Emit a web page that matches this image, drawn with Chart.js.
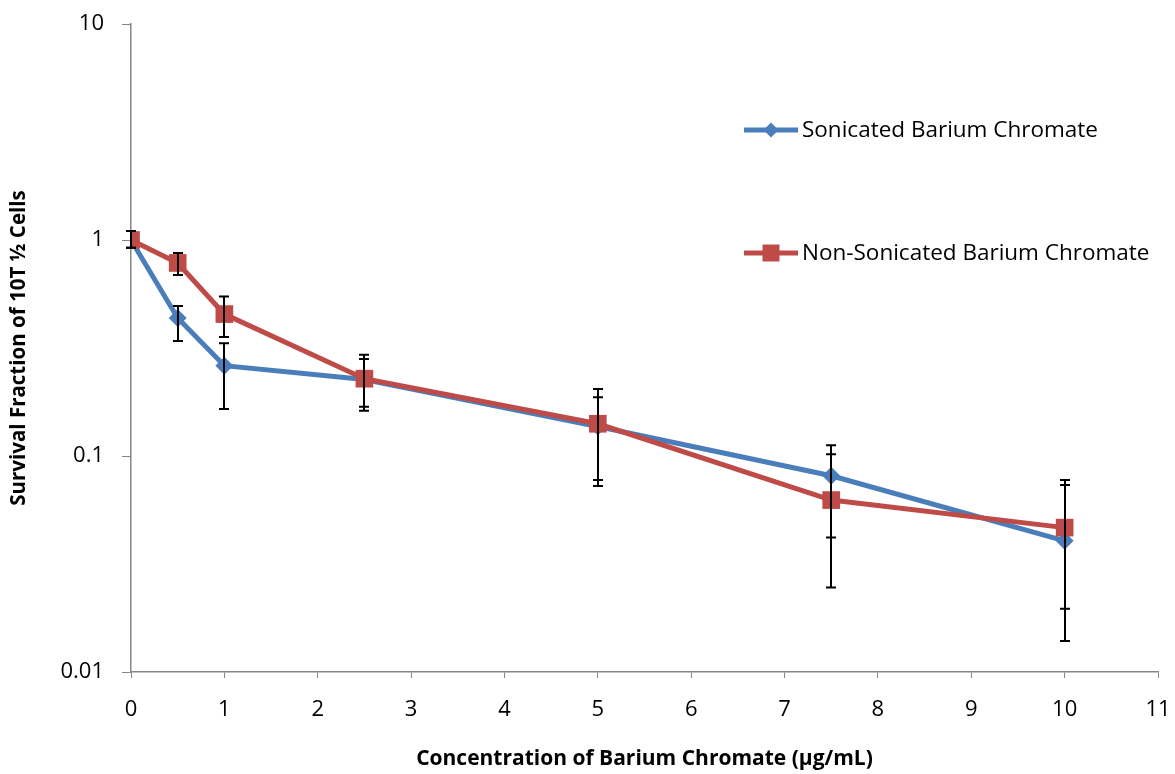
<!DOCTYPE html>
<html><head><meta charset="utf-8">
<script src="https://cdn.jsdelivr.net/npm/chart.js@4"></script>
<style>html,body{margin:0;padding:0;background:#fff}#wrap{width:1175px;height:774px}</style>
</head><body><div id="wrap"><canvas id="c" width="1175" height="774"></canvas></div>
<script>
const concentrations = [0, 0.5, 1, 2.5, 5, 7.5, 10];
const sonicated = [1, 0.435, 0.262, 0.226, 0.137, 0.081, 0.0405];
const sonicatedHigh = [1.1, 0.495, 0.333, 0.281, 0.187, 0.112, 0.0774];
const sonicatedLow = [0.92, 0.341, 0.165, 0.169, 0.0774, 0.042, 0.0139];
const nonSonicated = [1, 0.783, 0.454, 0.228, 0.141, 0.0625, 0.0466];
const nonSonicatedHigh = [1.1, 0.87, 0.547, 0.294, 0.204, 0.102, 0.0734];
const nonSonicatedLow = [0.92, 0.689, 0.356, 0.162, 0.0727, 0.0246, 0.0196];
const yTickValues = [0.01, 0.1, 1, 10];
const seriesNames = ['Sonicated Barium Chromate', 'Non-Sonicated Barium Chromate'];
const xTitle = 'Concentration of Barium Chromate (µg/mL)';
const yTitle = 'Survival Fraction of 10T ½ Cells';

const BLUE = '#4a7ebb', RED = '#be4b48', AXIS = '#868686';
const pts = (ys) => concentrations.map((x, i) => ({x, y: ys[i]}));

const errorBars = {
  id: 'errorBars',
  afterDatasetsDraw(chart) {
    const ctx = chart.ctx, xs = chart.scales.x, ys = chart.scales.y;
    const sets = [[sonicatedHigh, sonicatedLow], [nonSonicatedHigh, nonSonicatedLow]];
    ctx.save();
    ctx.strokeStyle = '#000';
    ctx.lineWidth = 2;
    sets.forEach(([hi, lo]) => {
      concentrations.forEach((c, i) => {
        const px = Math.round(xs.getPixelForValue(c));
        const yh = ys.getPixelForValue(hi[i]);
        const yl = ys.getPixelForValue(Math.max(lo[i], 0.01));
        ctx.beginPath();
        ctx.moveTo(px, yh); ctx.lineTo(px, yl);
        ctx.moveTo(px - 5, yh); ctx.lineTo(px + 5, yh);
        ctx.moveTo(px - 5, yl); ctx.lineTo(px + 5, yl);
        ctx.stroke();
      });
    });
    ctx.restore();
  }
};

const customLegend = {
  id: 'customLegend',
  afterDraw(chart) {
    const ctx = chart.ctx;
    const items = [
      {name: seriesNames[0], color: BLUE, style: 'rectRot', r: 7.5, y: 130},
      {name: seriesNames[1], color: RED, style: 'rect', r: 12, y: 253}
    ];
    ctx.save();
    items.forEach(it => {
      ctx.strokeStyle = it.color; ctx.lineWidth = 5;
      ctx.beginPath(); ctx.moveTo(744, it.y); ctx.lineTo(798, it.y); ctx.stroke();
      ctx.fillStyle = it.color;
      Chart.helpers.drawPoint(ctx, {pointStyle: it.style, radius: it.r, borderWidth: 0}, 771, it.y);
      ctx.fillStyle = '#000';
      ctx.font = '22.5px "Open Sans"';
      ctx.textBaseline = 'middle';
      ctx.fillText(it.name, 802, it.y + 1);
    });
    ctx.restore();
  }
};

new Chart(document.getElementById('c'), {
  type: 'line',
  data: {
    datasets: [
      {label: seriesNames[0], data: pts(sonicated), borderColor: BLUE, backgroundColor: BLUE,
       borderWidth: 5, pointStyle: 'rectRot', pointRadius: 9, pointBorderWidth: 0, order: 2, tension: 0},
      {label: seriesNames[1], data: pts(nonSonicated), borderColor: RED, backgroundColor: RED,
       borderWidth: 5, pointStyle: 'rect', pointRadius: 12.5, pointBorderWidth: 0, order: 1, tension: 0}
    ]
  },
  options: {
    responsive: false, animation: false, devicePixelRatio: 1,
    layout: {padding: {top: 24, right: 17, left: 0, bottom: 0}},
    plugins: {legend: {display: false}, tooltip: {enabled: false}},
    scales: {
      x: {
        type: 'linear', min: 0, max: 11,
        ticks: {stepSize: 1, color: '#000', font: {family: 'Open Sans', size: 22}, padding: 19},
        grid: {drawOnChartArea: false, drawTicks: true, tickLength: 6, color: AXIS},
        border: {color: AXIS, width: 1.5},
        title: {display: true, text: xTitle, color: '#000', font: {family: 'Open Sans', size: 21, weight: 'bold'}, padding: {top: 4, bottom: 2}},
        afterFit(s) { s.height = 102; s.paddingLeft = 0; s.paddingRight = 0; }
      },
      y: {
        type: 'logarithmic', min: 0.01, max: 10,
        afterBuildTicks(s) { s.ticks = yTickValues.map(v => ({value: v})); },
        ticks: {color: '#000', font: {family: 'Open Sans', size: 22}, padding: 18, callback: v => String(v)},
        grid: {drawOnChartArea: false, drawTicks: true, tickLength: 9, color: AXIS},
        border: {color: AXIS, width: 1.5},
        title: {display: true, text: yTitle, color: '#000', font: {family: 'Open Sans', size: 20.5, weight: 'bold'}, padding: {top: 7, bottom: 0}},
        afterFit(s) { s.width = 131; s.paddingTop = 0; s.paddingBottom = 0; }
      }
    }
  },
  plugins: [errorBars, customLegend]
});
</script></body></html>
